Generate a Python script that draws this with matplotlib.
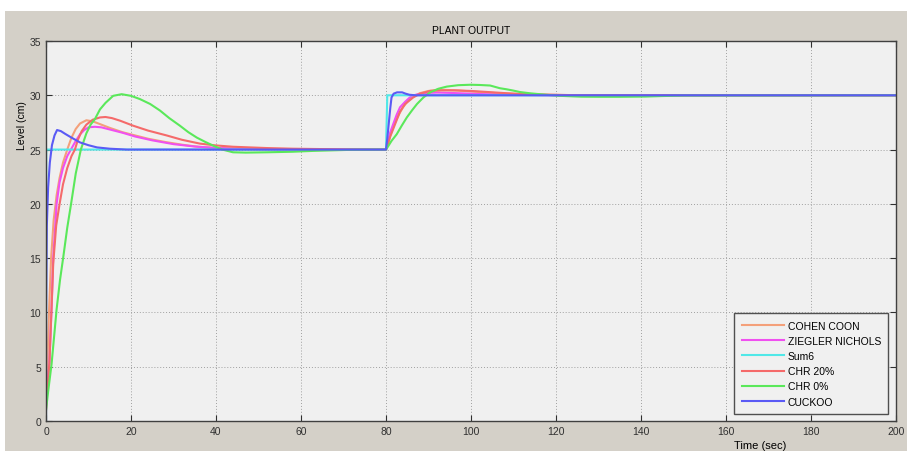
import matplotlib.pyplot as plt
from matplotlib.patches import Rectangle

plt.rcParams['font.family'] = ['Liberation Sans', 'DejaVu Sans']
plt.rcParams['font.size'] = 7.5

# COHEN COON
t_cc = [0, 0.3, 0.7, 1.2, 1.8, 2.5, 3.2, 4.0, 5.0, 6.0, 7.0, 8.0, 9.5, 11, 13, 15, 18,
        20, 24, 28, 32, 36, 40, 45, 50, 55, 60, 70, 80,
        80.5, 81, 82, 83, 84, 85, 86, 88, 90, 92, 94, 97, 100, 104, 108, 112, 116, 120, 125, 200]
v_cc = [1.5, 5, 10, 15, 18.5, 20.8, 22.4, 23.8, 25.0, 26.1, 26.9, 27.4, 27.7, 27.6, 27.3, 27.0, 26.6,
        26.4, 26.0, 25.7, 25.45, 25.25, 25.15, 25.07, 25.03, 25.01, 25.0, 25.0, 25.0,
        25.5, 26.3, 27.4, 28.2, 28.9, 29.4, 29.8, 30.2, 30.4, 30.5, 30.5, 30.45, 30.35, 30.25, 30.15, 30.08, 30.04, 30.02, 30.0, 30.0]

# ZIEGLER NICHOLS
t_zn = [0, 0.3, 0.8, 1.3, 1.7, 2.5, 3.2, 4.0, 5.0, 6.0, 7.0, 8.0, 9.0, 10, 11.5, 13, 15, 18, 21, 25,
        30, 35, 40, 45, 50, 55, 60, 70, 80,
        80.5, 81, 81.7, 82.5, 83.3, 84.5, 85.6, 87, 89, 92, 95, 100, 105, 110, 120, 200]
v_zn = [1.5, 3.5, 5.3, 10.3, 15, 20, 22, 23.3, 24.4, 25.1, 25.8, 26.4, 26.8, 27.05, 27.1, 27.05, 26.85, 26.55, 26.2, 25.85,
        25.5, 25.28, 25.15, 25.08, 25.04, 25.02, 25.0, 25.0, 25.0,
        25.8, 26.6, 27.35, 28.2, 28.9, 29.4, 29.8, 30.05, 30.2, 30.25, 30.22, 30.15, 30.08, 30.04, 30.0, 30.0]

# Sum6
t_s6 = [0, 0.05, 80, 80.3, 200]
v_s6 = [0, 25, 25, 30, 30]

# CHR 20%
t_c20 = [0, 0.2, 0.8, 1.3, 1.7, 2.4, 3.2, 4.0, 5.0, 6.0, 6.8, 7.5, 8.4, 9.5, 11, 12.7, 14, 15.5, 17.5,
         20.5, 24, 28.4, 32, 36.2, 40, 44, 48, 52, 58, 64, 70, 80,
         80.5, 81, 81.7, 82.5, 83.3, 84.5, 86.4, 88, 90.4, 93, 96, 100, 104, 108, 112, 116, 120, 122, 125, 200]
v_c20 = [1.0, 2.3, 5.3, 10.3, 14.5, 18, 20, 21.8, 23.3, 24.4, 25.0, 25.9, 26.7, 27.3, 27.75, 27.96, 28.0, 27.9, 27.65,
         27.2, 26.75, 26.3, 25.9, 25.55, 25.38, 25.26, 25.2, 25.14, 25.08, 25.05, 25.02, 25.0,
         25.6, 26.2, 26.9, 27.7, 28.5, 29.2, 29.8, 30.15, 30.4, 30.45, 30.45, 30.4, 30.3, 30.2, 30.12, 30.08, 30.05, 30.03, 30.0, 30.0]

# CHR 0%
t_c0 = [0, 0.5, 1.3, 2.5, 3.3, 4.1, 5.0, 5.9, 7.0, 8.2, 9.5, 10.5, 11.5, 12.7, 14, 15.8, 17.8, 20, 22.1, 24.5,
        26.8, 29, 31.5, 33.5, 35.5, 37.5, 39.4, 41.5, 44, 47, 52, 58, 63, 67.5, 72, 80,
        80.5, 81.3, 82.5, 83.7, 84.9, 86.1, 87.3, 88.8, 90.4, 92.3, 94.3, 97, 99.8, 102, 104.5, 106.8, 108.4,
        110, 111.5, 114, 116.2, 118.6, 121, 124, 126, 130, 135, 141, 145, 150, 200]
v_c0 = [1.0, 2.7, 5.2, 10.3, 13.0, 15.2, 17.8, 20.0, 22.8, 25.0, 26.5, 27.3, 27.8, 28.7, 29.3, 29.95, 30.1, 29.95, 29.65, 29.2,
        28.6, 27.9, 27.2, 26.6, 26.1, 25.7, 25.35, 25.0, 24.75, 24.72, 24.75, 24.8, 24.88, 24.93, 24.98, 25.0,
        25.3, 25.8, 26.4, 27.2, 27.96, 28.6, 29.2, 29.8, 30.27, 30.6, 30.8, 30.93, 30.97, 30.95, 30.9, 30.65, 30.55,
        30.43, 30.3, 30.18, 30.1, 30.02, 29.95, 29.9, 29.87, 29.86, 29.86, 29.88, 29.93, 29.98, 30.0]

# CUCKOO
t_ck = [0, 0.02, 0.2, 0.5, 0.9, 1.4, 2.0, 2.6, 3.5, 4.5, 6, 8, 10, 12, 15, 19, 25, 80,
        80.3, 80.7, 81.0, 81.3, 81.8, 82.6, 83.8, 84.6, 85.5, 87, 200]
v_ck = [0, 10, 18, 21.5, 23.8, 25.4, 26.3, 26.8, 26.7, 26.45, 26.1, 25.66, 25.4, 25.2, 25.08, 25.0, 25.0, 25.0,
        26.0, 27.6, 28.8, 29.8, 30.15, 30.27, 30.27, 30.15, 30.05, 30.0, 30.0]

fig = plt.figure(figsize=(9.1, 4.52), dpi=100, facecolor='white')
fig.add_artist(Rectangle((5 / 910, 0), 902 / 910, 440 / 452, transform=fig.transFigure,
                         facecolor='#d4d0c8', edgecolor='none', zorder=-1))
ax = fig.add_axes([46 / 910, 30 / 452, 850 / 910, 380 / 452])
ax.set_facecolor('#f0f0f0')

lw = 1.5
ax.plot(t_cc, v_cc, color='#f4a07a', lw=lw, label='COHEN COON')
ax.plot(t_zn, v_zn, color='#f050f0', lw=lw, label='ZIEGLER NICHOLS')
ax.plot(t_s6, v_s6, color='#50e8e8', lw=lw, label='Sum6')
ax.plot(t_c20, v_c20, color='#f56a6a', lw=lw, label='CHR 20%')
ax.plot(t_c0, v_c0, color='#5ae85a', lw=lw, label='CHR 0%')
ax.plot(t_ck, v_ck, color='#5a5af5', lw=lw, label='CUCKOO')

ax.set_xlim(0, 200)
ax.set_ylim(0, 35)
ax.set_xticks(range(0, 201, 20))
ax.set_yticks(range(0, 36, 5))
ax.tick_params(direction='in', top=True, right=True, length=4, width=0.8, colors='#303030', labelsize=7.5)
ax.grid(True, color='#a0a0a0', lw=0.7, linestyle=(0, (1, 2)))
for s in ax.spines.values():
    s.set_color('#404040')
    s.set_linewidth(1)

ax.set_title('PLANT OUTPUT', fontsize=7.5, pad=6)
ax.set_ylabel('Level (cm)', fontsize=7.5)
ax.yaxis.set_label_coords(-0.022, 0.78)
ax.set_xlabel('Time (sec)', fontsize=8)
ax.xaxis.set_label_coords(0.84, -0.05)
ax.xaxis.label.set_va('top')

leg = ax.legend(loc='lower right', bbox_to_anchor=(0.997, 0.005), fontsize=7.5,
                handlelength=4.1, handletextpad=0.3, labelspacing=0.5, borderpad=0.7,
                fancybox=False, framealpha=1, facecolor='#f0f0f0', edgecolor='#505050')
leg.get_frame().set_linewidth(1)

fig.savefig('out.png', dpi=100, facecolor=fig.get_facecolor())
